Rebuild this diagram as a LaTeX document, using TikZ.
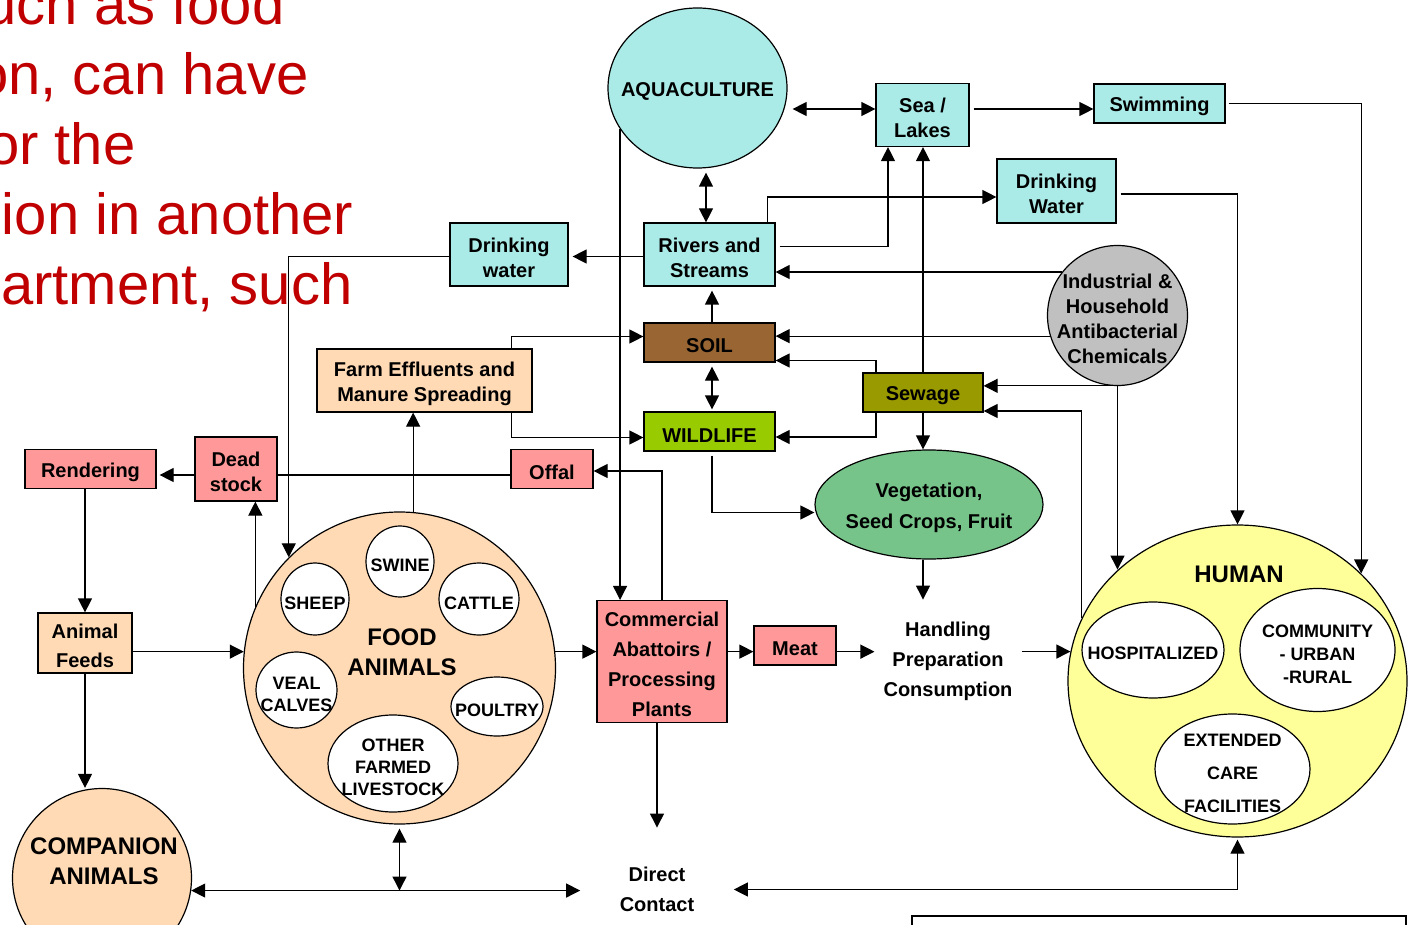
\documentclass[tikz,border=0pt]{standalone}
\usepackage{fontspec}
\setmainfont{Liberation Sans}
\usetikzlibrary{shapes.geometric,arrows.meta}

\definecolor{water}{RGB}{170,235,232}
\definecolor{peach}{RGB}{255,218,181}
\definecolor{salmon}{RGB}{255,153,153}
\definecolor{soilbrown}{RGB}{153,102,51}
\definecolor{leaf}{RGB}{153,204,0}
\definecolor{sewagegreen}{RGB}{153,153,0}
\definecolor{crop}{RGB}{119,196,138}
\definecolor{chemgray}{RGB}{192,192,192}
\definecolor{humanyellow}{RGB}{255,255,153}
\definecolor{slidered}{RGB}{192,0,0}
\newcommand\lift{\rule{0pt}{10.5pt}}

\begin{document}
\begin{tikzpicture}[x=0.5pt,y=-0.5pt,
line width=0.6pt,
>={Triangle[length=7pt,width=7pt]},
boxed/.style={%
draw,
align=center,
inner sep=0pt,
execute at begin node={\lift},
font=\bfseries\fontsize{10}{12.5}\selectfont
},
blob/.style={%
draw,
ellipse,
align=center,
inner sep=-8pt,
execute at begin node={\lift},
font=\bfseries\fontsize{10}{12.5}\selectfont
},
kind/.style={%
draw,
fill=white,
ellipse,
align=center,
inner sep=-10pt,
execute at begin node={\rule{0pt}{9.5pt}},
font=\bfseries\fontsize{9}{11}\selectfont
},
groupname/.style={%
align=center,
font=\bfseries\fontsize{12}{15}\selectfont
},
freetext/.style={%
align=center,
font=\bfseries\fontsize{10}{15}\selectfont
},
slidetext/.style={%
anchor=base east,
inner sep=0pt,
text=slidered,
font=\fontsize{29}{35}\selectfont
},
]
\useasboundingbox (0,0) rectangle (1408,925);
\clip (0,0) rectangle (1408,925);
%% Slide text behind the diagram
\node[slidetext] (line1) at (285,25) {uch as food};
\node[slidetext] (line2) at (309,95) {on, can have};
\node[slidetext] (line3) at (136,165) {or the};
\node[slidetext] (line4) at (354,235) {ion in another};
\node[slidetext] (line5) at (353,305) {artment, such};
%% Water
\node[blob,fill=water,minimum width=89.5pt,minimum height=80pt] (aqua) at (697.5,88) {AQUACULTURE};
\node[boxed,fill=water,minimum width=46.5pt,minimum height=31.5pt] (sea) at (922.5,115) {\lift Sea /\\Lakes};
\node[boxed,fill=water,minimum width=65.5pt,minimum height=19.5pt] (swim) at (1159.5,103.5) {Swimming};
\node[boxed,fill=water,minimum width=59.5pt,minimum height=32pt] (drinkR) at (1056.5,191) {\lift Drinking\\Water};
\node[boxed,fill=water,minimum width=65.5pt,minimum height=31.5pt] (rivers) at (709.5,254.5) {\lift Rivers and\\Streams};
\node[boxed,fill=water,minimum width=59pt,minimum height=31.5pt] (drinkL) at (509,254.5) {\lift Drinking\\water};
\node[blob,circle,fill=chemgray,minimum size=70pt] (chem) at (1117.5,315.5) {\lift Industrial \&\\Household\\Antibacterial\\Chemicals};
%% Environment
\node[boxed,fill=soilbrown,minimum width=65.5pt,minimum height=19.5pt] (soil) at (709.5,342.5) {SOIL};
\node[boxed,fill=leaf,minimum width=65.5pt,minimum height=19.5pt] (wild) at (709.5,431.5) {WILDLIFE};
\node[boxed,fill=sewagegreen,minimum width=60pt,minimum height=19.5pt] (sewage) at (923,392.5) {Sewage};
\node[blob,fill=crop,minimum width=114pt,minimum height=54.5pt] (veg) at (929,504.5) {\lift Vegetation,\\[3pt]Seed Crops, Fruit};
\node[boxed,fill=peach,minimum width=107.5pt,minimum height=31.5pt] (farm) at (424.5,380.5) {\lift Farm Effluents and\\Manure Spreading};
%% By-products
\node[boxed,fill=salmon,minimum width=41pt,minimum height=19.5pt] (offal) at (552,469) {Offal};
\node[boxed,fill=salmon,minimum width=41pt,minimum height=32pt] (dead) at (236,469) {\lift Dead\\stock};
\node[boxed,fill=salmon,minimum width=65.5pt,minimum height=19.5pt] (rend) at (90.5,469) {Rendering};
\node[boxed,fill=peach,minimum width=47pt,minimum height=30pt,font=\bfseries\fontsize{10}{14.5}\selectfont] (feeds) at (85,643) {\lift Animal\\Feeds};
%% Food animals
\node[draw,circle,fill=peach,minimum size=156pt] (food) at (399.5,668) {};
\node[groupname] (foodname) at (402,652) {FOOD\\ANIMALS};
\foreach \name/\x/\y/\w/\h/\txt in {%
swine/400/561.5/34/35.5/SWINE,
sheep/315/599/34/36/SHEEP,
cattle/479/599/40/36/CATTLE,
veal/296.5/690/40.5/38/VEAL\\CALVES,
poultry/497/706.5/46/29.5/POULTRY,
other/393/763.5/65/48.5/OTHER\\FARMED\\LIVESTOCK}{%
\node[kind,minimum width=\w pt,minimum height=\h pt] (\name) at (\x,\y) {\lift\txt};
}
\node[boxed,fill=salmon,minimum width=65pt,minimum height=61pt,font=\bfseries\fontsize{10}{15}\selectfont] (abat) at (662,661.5) {\lift Commercial\\Abattoirs /\\Processing\\Plants};
\node[boxed,fill=salmon,minimum width=41pt,minimum height=19.5pt] (meat) at (795,645.5) {Meat};
\node[freetext,inner xsep=4.25pt,inner ysep=10.75pt] (handl) at (948,661) {Handling\\Preparation\\Consumption};
%% Human
\node[draw,ellipse,fill=humanyellow,minimum width=169.5pt,minimum height=156pt] (human) at (1237.5,681) {};
\node[groupname] (humanname) at (1239,574) {HUMAN};
\node[kind,minimum width=71pt,minimum height=48pt] (hosp) at (1153,650) {HOSPITALIZED};
\node[kind,minimum width=77.5pt,minimum height=61.5pt,font=\bfseries\fontsize{9}{11.5}\selectfont] (comm) at (1317.5,650) {\lift COMMUNITY\\- URBAN\\-RURAL};
\node[kind,minimum width=77.5pt,minimum height=55pt,font=\bfseries\fontsize{9}{16.5}\selectfont] (care) at (1232.5,769) {\lift EXTENDED\\CARE\\FACILITIES};
%% Companion animals and contact
\node[draw,circle,fill=peach,minimum size=89.5pt] (comp) at (102,878) {};
\node[groupname] (compname) at (104,861) {COMPANION\\ANIMALS};
\node[freetext,inner sep=19.5pt] (direct) at (657,889.5) {Direct\\Contact};
\draw (912,935) |- (1406,916) -- (1406,935);
%% Water routes
\draw[<->] ([xshift=2.5pt,yshift=-10.5pt]aqua.east) -- ([yshift=3pt]sea.west);
\draw[->] ([xshift=2pt,yshift=3pt]sea.east) -- ([yshift=-2.75pt]swim.west);
\draw[->] ([xshift=1.5pt]swim.east) -| (human.41);
\draw[<->] ([xshift=4.25pt,yshift=-2pt]aqua.south) -- ([xshift=-1.75pt]rivers.north);
\draw[->] ([xshift=-4pt]rivers.north east) |- ([yshift=-3pt]drinkR.west);
\draw[->] ([xshift=2pt,yshift=4pt]rivers.east) -| ([xshift=-17.25pt]sea.south);
\draw[->] (sewage.north) -- (sewage.north |- sea.south);
\draw[->] ([xshift=2pt,yshift=-1.5pt]drinkR.east) -| (human.north);
\draw[->] ([yshift=-1pt]rivers.west) -- ([xshift=2pt,yshift=-1pt]drinkL.east);
\draw[->] ([yshift=-1pt]drinkL.west) -| (food.135);
%% Chemicals and sewage
\draw[->] (chem.142) -- (chem.142 -| rivers.east);
\draw[->] (chem.197) -- (chem.197 -| soil.east);
\draw[->] (chem.265) -- (chem.265 -| sewage.east);
\draw[->] (chem.south) -- (chem.south |- human.137);
\draw[->] (human.158) |- ([yshift=-9.25pt]sewage.east);
\draw[->] ([xshift=-23.5pt]sewage.north) |- ([yshift=-9pt]soil.east);
\draw[->] ([xshift=-23.5pt]sewage.south) |- ([yshift=-2.75pt]wild.east);
\draw[->] (sewage.south) -- (sewage.south |- veg.north);
%% Soil and wildlife
\draw[<->] ([xshift=1.25pt,yshift=-2pt]soil.south) -- ([xshift=1.25pt,yshift=1pt]wild.north);
\draw[->] ([xshift=1.25pt]soil.north) -- ([xshift=1.25pt,yshift=-2pt]rivers.south);
\draw[->] ([xshift=-10.5pt]farm.north east) |- ([yshift=3pt]soil.west);
\draw[->] ([xshift=-10.5pt]farm.south east) |- ([yshift=-3pt]wild.west);
\draw[->] (food.85) -- (food.85 |- farm.south);
\draw[->] ([xshift=1.25pt,yshift=-2pt]wild.south) |- ([yshift=-4pt]veg.west);
\draw[->] (sewage.south |- veg.south) -- (sewage.south |- handl.north);
%% Food chain
\draw[->] (aqua.208) -- (aqua.208 |- abat.north);
\draw[->] (abat.north) |- ([yshift=-1pt]offal.east);
\draw ([yshift=-3pt]offal.west) -- ([yshift=-3pt]dead.east);
\draw[->] ([yshift=-3pt]dead.west) -- ([xshift=1.5pt,yshift=-3pt]rend.east);
\draw[->] (food.157) -- (food.157 |- dead.south);
\draw[->] (rend.south -| feeds.north) -- (feeds.north);
\draw[->] (feeds.east |- food.174) -- (food.174);
\draw[->] (feeds.south) -- (feeds.south |- comp.north);
\draw[->] (food.6) -- (food.6 -| abat.west);
\draw[->] (abat.east |- food.6) -- (meat.west |- food.6);
\draw[->] (meat.east |- food.6) -- (handl.west |- food.6);
\draw[->] (handl.east |- human.170) -- (human.170);
%% Direct contact
\draw[->] (abat.south -| direct.north) -- (direct.north);
\draw[<->] (comp.-8) -- (comp.-8 -| direct.west);
\draw[<->] ([yshift=-2pt]food.south) -- (food.south |- comp.-8);
\draw[<->] ([yshift=-1pt]human.south) |- (direct.east);
\end{tikzpicture}
\end{document}
